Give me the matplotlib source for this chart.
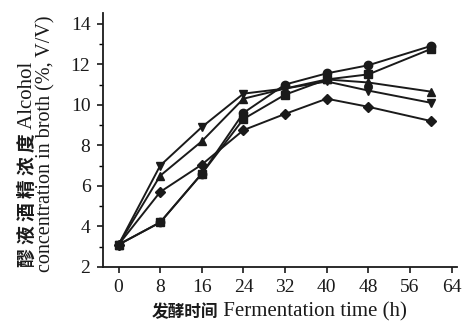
import matplotlib
matplotlib.use("Agg")
import matplotlib.pyplot as plt
from matplotlib.ticker import MultipleLocator

plt.rcParams['font.family'] = ['Liberation Serif', 'Noto Sans CJK SC']

# Fermentation time (h)
time_h = [0, 8, 16, 24, 32, 40, 48, 60]

# Alcohol concentration in broth (%, V/V), one list per curve
circle = [3.1, 4.2, 6.6, 9.6, 11.0, 11.55, 11.95, 12.9]
square = [3.1, 4.2, 6.6, 9.3, 10.5, 11.25, 11.5, 12.75]
up_tri = [3.1, 6.5, 8.2, 10.3, 10.8, 11.25, 11.1, 10.65]
down_tri = [3.1, 7.0, 8.9, 10.55, 10.8, 11.15, 10.7, 10.1]
diamond = [3.1, 5.7, 7.05, 8.75, 9.55, 10.3, 9.9, 9.2]

series = [(circle, 'o'), (square, 's'), (up_tri, '^'), (down_tri, 'v'), (diamond, 'D')]
xticks = [0, 8, 16, 24, 32, 40, 48, 56, 64]
yticks = [2, 4, 6, 8, 10, 12, 14]

cn = ['Noto Sans CJK SC']
ink = '#1a1a1a'

fig = plt.figure(figsize=(4.7, 3.22), dpi=100)
ax = fig.add_axes([0.219, 0.171, 0.753, 0.79])

for vals, m in series:
    ax.plot(time_h, vals, color=ink, lw=1.4, marker=m,
            ms=6 if m in 'os' else 5.5, mfc=ink, mec=ink)

ax.set_xlim(-3, 65)
ax.set_ylim(2, 14.55)
ax.set_xticks(xticks)
ax.set_yticks(yticks)
ax.yaxis.set_minor_locator(MultipleLocator(1))
ax.spines['top'].set_visible(False)
ax.spines['right'].set_visible(False)
for s in ['left', 'bottom']:
    ax.spines[s].set_linewidth(1.3)
    ax.spines[s].set_color(ink)
ax.tick_params(axis='both', which='major', direction='out', length=4, width=1.2,
               labelsize=14, colors=ink, pad=5)
ax.tick_params(axis='y', which='minor', direction='out', length=3, width=1.0)

# x label: bold Chinese followed by plain English
t = fig.text(152 / 470, 0.032, '发酵时间', family=cn, fontweight='bold',
             fontsize=12, ha='left', va='center', color=ink)
ax.annotate(' Fermentation time (h)', xy=(1, 0.5), xycoords=t,
            ha='left', va='center', fontsize=15, color=ink)

# y label, two lines (the Chinese is set loosely in the original)
t = fig.text(27 / 470, 0.171, '醪 液 酒 精 浓 度', family=cn, fontweight='bold',
             fontsize=13.5, rotation=90, ha='center', va='bottom', color=ink)
ax.annotate(' Alcohol', xy=(0.5, 1), xycoords=t,
            rotation=90, ha='center', va='bottom', fontsize=15, color=ink)
fig.text(46 / 470, 0.555, 'concentration in broth (%, V/V)', rotation=90,
         ha='center', va='center', fontsize=14.5, color=ink)

fig.savefig('out.png', dpi=100)
